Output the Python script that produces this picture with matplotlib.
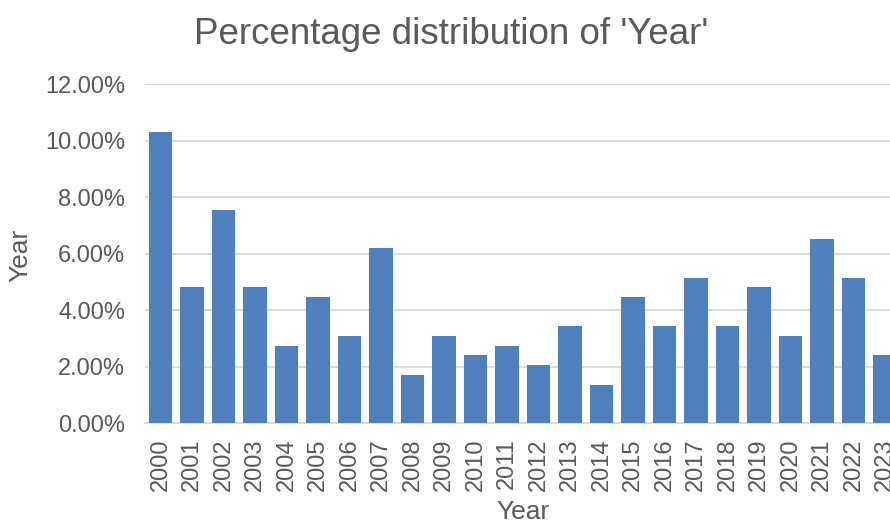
import matplotlib
matplotlib.use("Agg")
import matplotlib.pyplot as plt
from matplotlib.ticker import FuncFormatter

plt.rcParams['font.family'] = ['Liberation Sans', 'DejaVu Sans']

# percentage share of each year
years = [str(y) for y in range(2000, 2024)]
share = [10.31, 4.81, 7.56, 4.81, 2.75, 4.47, 3.09, 6.19, 1.72, 3.09,
         2.41, 2.75, 2.06, 3.44, 1.37, 4.47, 3.44, 5.15, 3.44, 4.81,
         3.09, 6.53, 5.15, 2.41]

grey = '#595959'
bar_col = '#4f80bd'

fig = plt.figure(figsize=(8.9, 5.23), dpi=100)
# plot area is cut off on the right in the original
ax = fig.add_axes([144.75 / 890, (523 - 423.3) / 523, 756 / 890, 339 / 523])

x = list(range(len(years)))
ax.bar(x, share, width=0.76, color=bar_col, zorder=3)

ax.set_xlim(-0.5, len(years) - 0.5)
ax.set_ylim(0, 12)
ax.set_yticks([0, 2, 4, 6, 8, 10, 12])
ax.yaxis.set_major_formatter(FuncFormatter(lambda v, p: '%.2f%%' % v))
ax.set_xticks(x)
ax.set_xticklabels(years, rotation=90)

ax.grid(axis='y', color='#d9d9d9', linewidth=1.3, zorder=0)
ax.set_axisbelow(True)
for s in ['top', 'right', 'left']:
    ax.spines[s].set_visible(False)
ax.spines['bottom'].set_color('#d9d9d9')
ax.spines['bottom'].set_linewidth(1.3)

ax.tick_params(axis='y', length=0, pad=14, labelsize=17, labelcolor=grey)
ax.tick_params(axis='x', length=0, pad=11, labelsize=17, labelcolor=grey)

ax.set_xlabel('Year', fontsize=19, color=grey)
ax.set_ylabel('Year', fontsize=19, color=grey)
ax.xaxis.set_label_coords(0.5, -0.262)
ax.xaxis.label.set_verticalalignment('center')
ax.yaxis.set_label_coords(-0.165, 0.494)
ax.yaxis.label.set_verticalalignment('center')

fig.text(451 / 890, 1 - 35 / 523, "Percentage distribution of 'Year'",
         fontsize=26.5, color=grey, ha='center', va='center')

fig.savefig('out.png', dpi=100)
